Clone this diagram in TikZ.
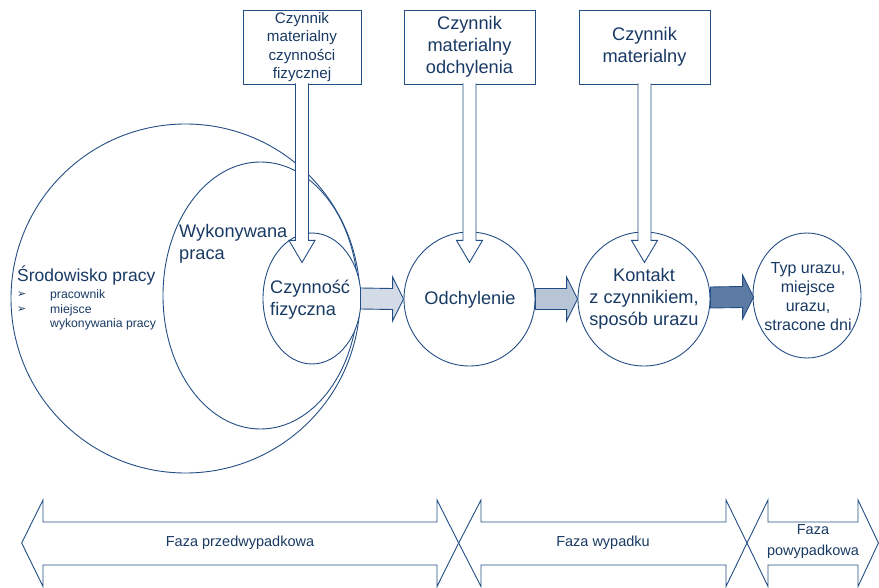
\documentclass[tikz,border=0pt]{standalone}
\usepackage{fontspec}
\setmainfont{Liberation Sans}
\newfontfamily\dejavu{DejaVu Sans}
\usetikzlibrary{shapes.geometric,calc}
\definecolor{ln}{RGB}{35,78,133}
\definecolor{tx}{RGB}{25,58,100}
\definecolor{fa}{RGB}{211,219,230}
\definecolor{fb}{RGB}{183,197,214}
\definecolor{fc}{RGB}{94,124,163}
\begin{document}
\begin{tikzpicture}[x=1pt,y=-1pt,
  oval/.style={ellipse,draw=ln,fill=white,line width=0.9pt,inner sep=0pt},
  box/.style={rectangle,draw=ln,fill=white,line width=0.9pt,inner sep=0pt,text=tx,align=center},
  lbl/.style={text=tx,inner sep=0pt},
  blk/.style={draw=ln,line width=0.9pt,line join=miter},
  big/.style={font=\fontsize{18.2}{21.8}\selectfont},
]
\useasboundingbox (0,0) rectangle (879,588);
% ellipses
\node[oval,minimum width=349pt,minimum height=349pt] (env) at (185.5,298.5) {};
\node[oval,minimum width=195pt,minimum height=267pt] (work) at (260.5,295.5) {};
\node[oval,minimum width=98pt,minimum height=131pt] (phys) at (312,298.5) {};
\node[oval,minimum width=131pt,minimum height=134pt] (dev) at (469.5,299) {};
\node[oval,minimum width=132pt,minimum height=134pt] (cont) at (644,299) {};
\node[oval,minimum width=108pt,minimum height=125pt] (inj) at (807,295.5) {};
% boxes
\node[box,minimum width=118pt,minimum height=74pt,font=\fontsize{15.2}{18.5}\selectfont] (b1) at (302,47) {Czynnik\\materialny\\czynności\\fizycznej};
\node[box,big,minimum width=131pt,minimum height=74pt] (b2) at (469.5,47) {Czynnik\\materialny\\odchylenia};
\node[box,big,minimum width=131pt,minimum height=74pt] (b3) at (644.5,47) {Czynnik\\materialny};
% down block arrows
\foreach \b in {b1,b2,b3}{
  \draw[blk,fill=white] ($(\b.south)+(-6.5,-1)$) -- ($(\b.south)+(-6.5,156)$) -- ($(\b.south)+(-13,156)$) -- ($(\b.south)+(0,178)$) -- ($(\b.south)+(13,156)$) -- ($(\b.south)+(6.5,156)$) -- ($(\b.south)+(6.5,-1)$);
}
% horizontal block arrows
\draw[blk,fill=fa] ($(phys.east)+(-1,-10.5)$) -- ($(dev.west)+(-11,-10.5)$) -- ($(dev.west)+(-11,-22)$) -- (dev.west) -- ($(dev.west)+(-11,22)$) -- ($(dev.west)+(-11,10.5)$) -- ($(phys.east)+(-1,10.5)$) -- cycle;
\draw[blk,fill=fb] ($(dev.east)+(0,-10.5)$) -- ($(cont.west)+(-11,-10.5)$) -- ($(cont.west)+(-11,-22)$) -- (cont.west) -- ($(cont.west)+(-11,22)$) -- ($(cont.west)+(-11,10.5)$) -- ($(dev.east)+(0,10.5)$) -- cycle;
\coordinate (t3) at ($(cont.east -| inj.west)+(1,-2)$);
\draw[blk,fill=fc] ($(cont.east)+(0,-12)$) -- ($(t3)+(-11,-10.5)$) -- ($(t3)+(-11,-22)$) -- (t3) -- ($(t3)+(-11,22)$) -- ($(t3)+(-11,10.5)$) -- ($(cont.east)+(0,9)$) -- cycle;
% phase arrows
\draw[blk,fill=white] (21.7,543) -- (43,500) -- (43,522) -- (437,522) -- (437,500) -- (458.7,543) -- (437,586.5) -- (437,565) -- (43,565) -- (43,586.5) -- cycle;
\draw[blk,fill=white] (458.7,543) -- (481,500) -- (481,522) -- (726,522) -- (726,500) -- (747,543) -- (726,586.5) -- (726,565) -- (481,565) -- (481,586.5) -- cycle;
\draw[blk,fill=white] (747,543) -- (768,500) -- (768,522) -- (858,522) -- (858,500) -- (878.4,543) -- (858,586.5) -- (858,565) -- (768,565) -- (768,586.5) -- cycle;
\node[lbl,font=\fontsize{14.5}{17}\selectfont] (p1) at (240,543) {Faza przedwypadkowa};
\node[lbl,font=\fontsize{14.5}{17}\selectfont] (p2) at (603,543) {Faza wypadku};
\node[lbl,font=\fontsize{14.5}{21}\selectfont,align=center] (p3) at (813,542) {Faza\\powypadkowa};
% texts in ellipses
\node[lbl,anchor=base west,font=\fontsize{17.5}{21}\selectfont] (envt) at (17,282) {Środowisko pracy};
\node[lbl,anchor=base west,font=\dejavu\fontsize{11}{12}\selectfont] (bu1) at (17,298) {➢};
\node[lbl,anchor=base west,font=\dejavu\fontsize{11}{12}\selectfont] (bu2) at (17,312.5) {➢};
\node[lbl,anchor=base west,font=\fontsize{12.2}{14.5}\selectfont] (bt1) at (50,299) {pracownik};
\node[lbl,anchor=base west,font=\fontsize{12.2}{14.5}\selectfont] (bt2) at (50,313.5) {miejsce};
\node[lbl,anchor=base west,font=\fontsize{12.2}{14.5}\selectfont] (bt3) at (50,328) {wykonywania pracy};
\node[lbl,big,anchor=base west] (wt1) at (179,237.5) {Wykonywana};
\node[lbl,big,anchor=base west] (wt2) at (179,259.5) {praca};
\node[lbl,big,anchor=base west] (ct1) at (270,293.5) {Czynność};
\node[lbl,big,anchor=base west] (ct2) at (270,315.5) {fizyczna};
\node[lbl,big,anchor=base] (dt) at (470,305) {Odchylenie};
\node[lbl,big,align=center] (kt) at (644,299) {Kontakt\\z czynnikiem,\\sposób urazu};
\node[lbl,align=center,font=\fontsize{16}{19}\selectfont] (it) at (808,297) {Typ urazu,\\miejsce\\urazu,\\stracone dni};
\end{tikzpicture}
\end{document}
